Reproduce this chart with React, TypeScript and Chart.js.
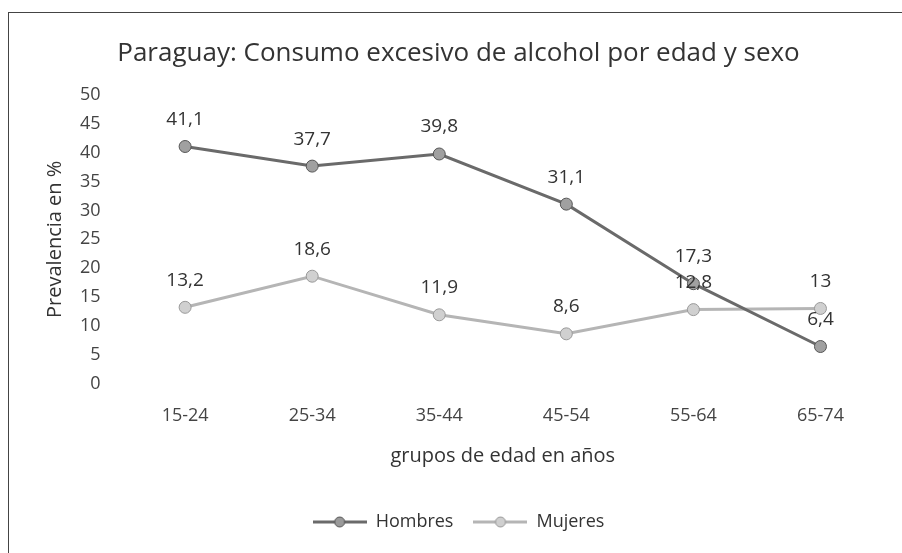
import React, { useEffect, useRef } from "react";
import { Chart, registerables } from "chart.js";

Chart.register(...registerables);

const categories = ["15-24", "25-34", "35-44", "45-54", "55-64", "65-74"];
const hombres = [41.1, 37.7, 39.8, 31.1, 17.3, 6.4];
const mujeres = [13.2, 18.6, 11.9, 8.6, 12.8, 13];
const yTicks = [0, 5, 10, 15, 20, 25, 30, 35, 40, 45, 50];

const FONT = "'Open Sans', sans-serif";

function legendIcon(line: string, fill: string, border: string) {
  const c = document.createElement("canvas");
  c.width = 54;
  c.height = 14;
  const ctx = c.getContext("2d")!;
  ctx.strokeStyle = line;
  ctx.lineWidth = 3;
  ctx.beginPath();
  ctx.moveTo(0, 7);
  ctx.lineTo(54, 7);
  ctx.stroke();
  ctx.fillStyle = fill;
  ctx.strokeStyle = border;
  ctx.lineWidth = 1;
  ctx.beginPath();
  ctx.arc(27, 7, 5, 0, Math.PI * 2);
  ctx.fill();
  ctx.stroke();
  return c;
}

const dataLabels = {
  id: "dataLabels",
  afterDatasetsDraw(chart: any) {
    const ctx = chart.ctx;
    ctx.save();
    ctx.font = "19px " + FONT;
    ctx.fillStyle = "#333";
    ctx.textAlign = "center";
    ctx.textBaseline = "middle";
    chart.data.datasets.forEach((ds: any, i: number) => {
      const meta = chart.getDatasetMeta(i);
      meta.data.forEach((pt: any, j: number) => {
        const v = ds.data[j];
        ctx.fillText(String(v).replace(".", ","), pt.x, pt.y - 27);
      });
    });
    ctx.restore();
  },
};

export default function App() {
  const ref = useRef<HTMLCanvasElement>(null);
  useEffect(() => {
    const hIcon = legendIcon("#6a6a6a", "#9a9a9a", "#555");
    const mIcon = legendIcon("#b5b5b5", "#cfcfcf", "#999");
    const chart = new Chart(ref.current!, {
      type: "line",
      data: {
        labels: categories,
        datasets: [
          {
            label: "Hombres",
            data: hombres,
            borderColor: "#6a6a6a",
            backgroundColor: "#9a9a9a",
            borderWidth: 3,
            pointRadius: 6,
            pointBorderColor: "#555",
            pointBackgroundColor: "#a0a0a0",
            pointBorderWidth: 1,
            tension: 0,
          } as any,
          {
            label: "Mujeres",
            data: mujeres,
            borderColor: "#b5b5b5",
            backgroundColor: "#cfcfcf",
            borderWidth: 3,
            pointRadius: 6,
            pointBorderColor: "#999",
            pointBackgroundColor: "#d0d0d0",
            pointBorderWidth: 1,
            tension: 0,
          } as any,
        ],
      },
      options: {
        animation: false,
        responsive: false,
        layout: { padding: { top: 18, left: 33, right: 18, bottom: 12 } },
        elements: { point: { pointStyle: "circle" } },
        plugins: {
          title: {
            display: true,
            text: "Paraguay: Consumo excesivo de alcohol por edad y sexo",
            color: "#333",
            font: { family: FONT, size: 26, weight: "normal" },
            padding: { top: 20, bottom: 26 },
          },
          legend: {
            position: "bottom",
            labels: {
              color: "#333",
              font: { family: FONT, size: 18 },
              usePointStyle: true,
              pointStyleWidth: 54,
              boxHeight: 14,
              generateLabels: () => [
                { text: "Hombres", pointStyle: hIcon, fontColor: "#333", datasetIndex: 0, lineWidth: 0 } as any,
                { text: "Mujeres", pointStyle: mIcon, fontColor: "#333", datasetIndex: 1, lineWidth: 0 } as any,
              ],
              padding: 20,
            },
          },
          tooltip: { enabled: false },
        },
        scales: {
          x: {
            offset: true,
            grid: { display: false, drawTicks: false },
            border: { display: false },
            ticks: { color: "#444", font: { family: FONT, size: 18 }, padding: 22 },
            title: {
              display: true,
              text: "grupos de edad en años",
              color: "#333",
              font: { family: FONT, size: 20 },
              padding: { top: -5, bottom: 25 },
            },
          },
          y: {
            min: 0,
            max: 50,
            afterBuildTicks: (scale: any) => {
              scale.ticks = yTicks.map((v) => ({ value: v }));
            },
            grid: { display: false, drawTicks: false },
            border: { display: false },
            ticks: { color: "#444", font: { family: FONT, size: 18 }, padding: 21 },
            title: {
              display: true,
              text: "Prevalencia en %",
              color: "#333",
              font: { family: FONT, size: 20 },
              padding: { top: 10, bottom: -8 },
            },
          },
        },
      },
      plugins: [dataLabels],
    });
    return () => chart.destroy();
  }, []);
  return (
    <div
      style={{
        position: "fixed",
        left: 0,
        top: 0,
        width: 902,
        height: 553,
        background: "#fff",
      }}
    >
      <div
        style={{
          position: "absolute",
          left: 8,
          top: 12,
          right: 0,
          bottom: 0,
          borderTop: "1px solid #444",
          borderLeft: "1px solid #444",
        }}
      />
      <canvas ref={ref} width={902} height={553} style={{ position: "absolute", left: 0, top: 0 }} />
    </div>
  );
}
